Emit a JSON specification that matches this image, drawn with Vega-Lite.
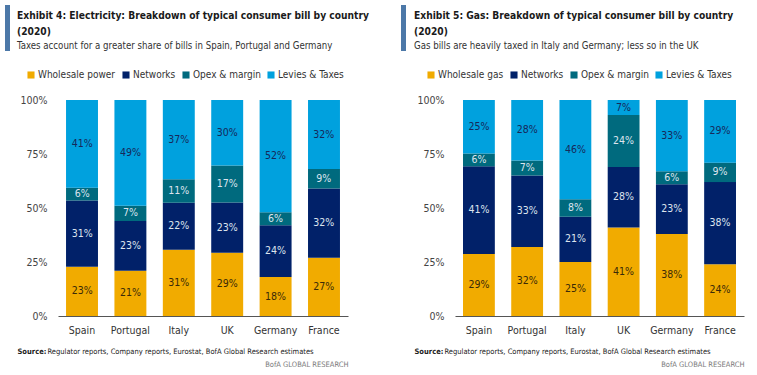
{
  "$schema": "https://vega.github.io/schema/vega-lite/v6.json",
  "padding": {"left": 5, "top": 5, "right": 5, "bottom": 3},
  "background": "white",
  "config": {
    "font": "Liberation Sans Narrow, DejaVu Sans Condensed, Roboto, sans-serif",
    "view": {"stroke": null},
    "legend": {"padding": 0}
  },
  "datasets": {
    "elec": [
      {"country": "Spain", "component": "Wholesale power", "value": 23, "order": 1},
      {"country": "Spain", "component": "Networks", "value": 31, "order": 2},
      {"country": "Spain", "component": "Opex & margin", "value": 6, "order": 3},
      {"country": "Spain", "component": "Levies & Taxes", "value": 41, "order": 4},
      {"country": "Portugal", "component": "Wholesale power", "value": 21, "order": 1},
      {"country": "Portugal", "component": "Networks", "value": 23, "order": 2},
      {"country": "Portugal", "component": "Opex & margin", "value": 7, "order": 3},
      {"country": "Portugal", "component": "Levies & Taxes", "value": 49, "order": 4},
      {"country": "Italy", "component": "Wholesale power", "value": 31, "order": 1},
      {"country": "Italy", "component": "Networks", "value": 22, "order": 2},
      {"country": "Italy", "component": "Opex & margin", "value": 11, "order": 3},
      {"country": "Italy", "component": "Levies & Taxes", "value": 37, "order": 4},
      {"country": "UK", "component": "Wholesale power", "value": 29, "order": 1},
      {"country": "UK", "component": "Networks", "value": 23, "order": 2},
      {"country": "UK", "component": "Opex & margin", "value": 17, "order": 3},
      {"country": "UK", "component": "Levies & Taxes", "value": 30, "order": 4},
      {"country": "Germany", "component": "Wholesale power", "value": 18, "order": 1},
      {"country": "Germany", "component": "Networks", "value": 24, "order": 2},
      {"country": "Germany", "component": "Opex & margin", "value": 6, "order": 3},
      {"country": "Germany", "component": "Levies & Taxes", "value": 52, "order": 4},
      {"country": "France", "component": "Wholesale power", "value": 27, "order": 1},
      {"country": "France", "component": "Networks", "value": 32, "order": 2},
      {"country": "France", "component": "Opex & margin", "value": 9, "order": 3},
      {"country": "France", "component": "Levies & Taxes", "value": 32, "order": 4}
    ],
    "gas": [
      {"country": "Spain", "component": "Wholesale gas", "value": 29, "order": 1},
      {"country": "Spain", "component": "Networks", "value": 41, "order": 2},
      {"country": "Spain", "component": "Opex & margin", "value": 6, "order": 3},
      {"country": "Spain", "component": "Levies & Taxes", "value": 25, "order": 4},
      {"country": "Portugal", "component": "Wholesale gas", "value": 32, "order": 1},
      {"country": "Portugal", "component": "Networks", "value": 33, "order": 2},
      {"country": "Portugal", "component": "Opex & margin", "value": 7, "order": 3},
      {"country": "Portugal", "component": "Levies & Taxes", "value": 28, "order": 4},
      {"country": "Italy", "component": "Wholesale gas", "value": 25, "order": 1},
      {"country": "Italy", "component": "Networks", "value": 21, "order": 2},
      {"country": "Italy", "component": "Opex & margin", "value": 8, "order": 3},
      {"country": "Italy", "component": "Levies & Taxes", "value": 46, "order": 4},
      {"country": "UK", "component": "Wholesale gas", "value": 41, "order": 1},
      {"country": "UK", "component": "Networks", "value": 28, "order": 2},
      {"country": "UK", "component": "Opex & margin", "value": 24, "order": 3},
      {"country": "UK", "component": "Levies & Taxes", "value": 7, "order": 4},
      {"country": "Germany", "component": "Wholesale gas", "value": 38, "order": 1},
      {"country": "Germany", "component": "Networks", "value": 23, "order": 2},
      {"country": "Germany", "component": "Opex & margin", "value": 6, "order": 3},
      {"country": "Germany", "component": "Levies & Taxes", "value": 33, "order": 4},
      {"country": "France", "component": "Wholesale gas", "value": 24, "order": 1},
      {"country": "France", "component": "Networks", "value": 38, "order": 2},
      {"country": "France", "component": "Opex & margin", "value": 9, "order": 3},
      {"country": "France", "component": "Levies & Taxes", "value": 29, "order": 4}
    ]
  },
  "resolve": {
    "scale": {"color": "independent", "shape": "independent", "y": "independent"},
    "legend": {"color": "independent", "shape": "independent"}
  },
  "spacing": 32,
  "hconcat": [
    {
      "width": 290, "height": 216,
      "data": {"name": "elec"},
      "title": {
        "text": ["Exhibit 4: Electricity: Breakdown of typical consumer bill by country", "(2020)"],
        "subtitle": "Taxes account for a greater share of bills in Spain, Portugal and Germany",
        "anchor": "start", "frame": "group", "dx": -41,
        "fontSize": 10.2, "fontWeight": "bold", "color": "#1a1a1a", "lineHeight": 16,
        "subtitleFontSize": 9.6, "subtitleColor": "#333333", "subtitlePadding": 4, "offset": -46
      },
      "transform": [
        {"stack": "value", "groupby": ["country"], "sort": [{"field": "order"}], "as": ["v0", "v1"], "offset": "normalize"},
        {"calculate": "(datum.v0 + datum.v1) / 2", "as": "mid"},
        {"calculate": "datum.value + '%'", "as": "label"}
      ],
      "resolve": {"scale": {"x": "independent"}, "axis": {"x": "independent"}},
      "layer": [
        {
          "mark": {"type": "bar"},
          "encoding": {
            "x": {
              "field": "country", "type": "nominal",
              "sort": ["Spain", "Portugal", "Italy", "UK", "Germany", "France"],
              "scale": {"paddingInner": 0.34, "paddingOuter": 0.166},
              "axis": {
                "orient": "bottom",
                "title": "Regulator reports, Company reports, Eurostat, BofA Global Research estimates",
                "titleFontSize": 7.5, "titleFontWeight": "normal", "titleColor": "#222222",
                "titleAnchor": "start", "titleAlign": "left", "titleBaseline": "top", "titleX": -11, "titleY": 31,
                "labelAngle": 0, "labelFontSize": 10.5, "labelColor": "#333333", "labelPadding": 9,
                "ticks": false, "domainColor": "#555555", "domainWidth": 1
              }
            },
            "y": {
              "field": "v0", "type": "quantitative",
              "scale": {"domain": [0, 1], "nice": false},
              "axis": {"title": null, "format": ".0%", "values": [0, 0.25, 0.5, 0.75, 1], "grid": false, "domain": false, "ticks": false, "labelPadding": 11, "labelFontSize": 10.5, "labelColor": "#444444"}
            },
            "y2": {"field": "v1"},
            "color": {
              "field": "component", "type": "nominal",
              "scale": {"domain": ["Wholesale power", "Networks", "Opex & margin", "Levies & Taxes"], "range": ["#F1AB00", "#012169", "#006A7E", "#00A1DE"]},
              "legend": {"title": null, "orient": "none", "legendX": -32, "legendY": -30, "direction": "horizontal", "symbolType": "square", "symbolSize": 50, "symbolStrokeWidth": 0, "labelFontSize": 10, "labelColor": "#333333", "columnPadding": 5, "labelOffset": 2}
            },
            "order": {"field": "order"}
          }
        },
        {
          "mark": {"type": "text", "fontSize": 10.5},
          "encoding": {
            "x": {
              "field": "country", "type": "nominal",
              "sort": ["Spain", "Portugal", "Italy", "UK", "Germany", "France"],
              "scale": {"paddingInner": 0.34, "paddingOuter": 0.166},
              "axis": null
            },
            "y": {"field": "mid", "type": "quantitative"},
            "text": {"field": "label"},
            "color": {
              "condition": [
                {"test": "datum.order == 1", "value": "#3a2a08"},
                {"test": "datum.order == 4", "value": "#16285a"}
              ],
              "value": "#dde4ee"
            }
          }
        },
        {
          "mark": {"type": "point", "opacity": 0, "filled": true},
          "encoding": {
            "x": {
              "field": "country", "type": "nominal",
              "sort": ["Spain", "Portugal", "Italy", "UK", "Germany", "France"],
              "axis": {
                "orient": "bottom", "labels": false, "ticks": false, "domain": false,
                "title": "Source:", "titleFontSize": 7.5, "titleFontWeight": "bold", "titleColor": "#222222",
                "titleAnchor": "start", "titleAlign": "left", "titleBaseline": "top", "titleX": -41, "titleY": 31
              }
            },
            "y": {"field": "mid", "type": "quantitative"},
            "shape": {
              "datum": "bar",
              "scale": {"range": ["M-1,-1H-0.783V1H-1Z"]},
              "legend": {"title": null, "orient": "none", "legendX": -53, "legendY": -95, "symbolSize": 2116, "symbolFillColor": "#0A50C8", "symbolStrokeColor": "#0A50C8", "symbolStrokeWidth": 0, "symbolOpacity": 1, "labelExpr": "''", "labelOffset": 0}
            }
          }
        },
        {
          "mark": {"type": "point", "opacity": 0},
          "encoding": {
            "x": {
              "field": "country", "type": "nominal",
              "sort": ["Spain", "Portugal", "Italy", "UK", "Germany", "France"],
              "axis": {
                "orient": "bottom", "labels": false, "ticks": false, "domain": false,
                "title": "BofA GLOBAL RESEARCH", "titleFontSize": 7.5, "titleFontWeight": "normal", "titleColor": "#7a7a7a",
                "titleAnchor": "end", "titleAlign": "right", "titleBaseline": "top", "titleX": 290, "titleY": 44
              }
            },
            "y": {"field": "mid", "type": "quantitative"}
          }
        }
      ]
    },
    {
      "width": 289, "height": 216,
      "data": {"name": "gas"},
      "title": {
        "text": ["Exhibit 5: Gas: Breakdown of typical consumer bill by country", "(2020)"],
        "subtitle": "Gas bills are heavily taxed in Italy and Germany; less so in the UK",
        "anchor": "start", "frame": "group", "dx": -41,
        "fontSize": 10.2, "fontWeight": "bold", "color": "#1a1a1a", "lineHeight": 16,
        "subtitleFontSize": 9.6, "subtitleColor": "#333333", "subtitlePadding": 4, "offset": -46
      },
      "transform": [
        {"stack": "value", "groupby": ["country"], "sort": [{"field": "order"}], "as": ["v0", "v1"], "offset": "normalize"},
        {"calculate": "(datum.v0 + datum.v1) / 2", "as": "mid"},
        {"calculate": "datum.value + '%'", "as": "label"}
      ],
      "resolve": {"scale": {"x": "independent"}, "axis": {"x": "independent"}},
      "layer": [
        {
          "mark": {"type": "bar"},
          "encoding": {
            "x": {
              "field": "country", "type": "nominal",
              "sort": ["Spain", "Portugal", "Italy", "UK", "Germany", "France"],
              "scale": {"paddingInner": 0.34, "paddingOuter": 0.166},
              "axis": {
                "orient": "bottom",
                "title": "Regulator reports, Company reports, Eurostat, BofA Global Research estimates",
                "titleFontSize": 7.5, "titleFontWeight": "normal", "titleColor": "#222222",
                "titleAnchor": "start", "titleAlign": "left", "titleBaseline": "top", "titleX": -11, "titleY": 31,
                "labelAngle": 0, "labelFontSize": 10.5, "labelColor": "#333333", "labelPadding": 9,
                "ticks": false, "domainColor": "#555555", "domainWidth": 1
              }
            },
            "y": {
              "field": "v0", "type": "quantitative",
              "scale": {"domain": [0, 1], "nice": false},
              "axis": {"title": null, "format": ".0%", "values": [0, 0.25, 0.5, 0.75, 1], "grid": false, "domain": false, "ticks": false, "labelPadding": 11, "labelFontSize": 10.5, "labelColor": "#444444"}
            },
            "y2": {"field": "v1"},
            "color": {
              "field": "component", "type": "nominal",
              "scale": {"domain": ["Wholesale gas", "Networks", "Opex & margin", "Levies & Taxes"], "range": ["#F1AB00", "#012169", "#006A7E", "#00A1DE"]},
              "legend": {"title": null, "orient": "none", "legendX": -29, "legendY": -30, "direction": "horizontal", "symbolType": "square", "symbolSize": 50, "symbolStrokeWidth": 0, "labelFontSize": 10, "labelColor": "#333333", "columnPadding": 5, "labelOffset": 2}
            },
            "order": {"field": "order"}
          }
        },
        {
          "mark": {"type": "text", "fontSize": 10.5},
          "encoding": {
            "x": {
              "field": "country", "type": "nominal",
              "sort": ["Spain", "Portugal", "Italy", "UK", "Germany", "France"],
              "scale": {"paddingInner": 0.34, "paddingOuter": 0.166},
              "axis": null
            },
            "y": {"field": "mid", "type": "quantitative"},
            "text": {"field": "label"},
            "color": {
              "condition": [
                {"test": "datum.order == 1", "value": "#3a2a08"},
                {"test": "datum.order == 4", "value": "#16285a"}
              ],
              "value": "#dde4ee"
            }
          }
        },
        {
          "mark": {"type": "point", "opacity": 0, "filled": true},
          "encoding": {
            "x": {
              "field": "country", "type": "nominal",
              "sort": ["Spain", "Portugal", "Italy", "UK", "Germany", "France"],
              "axis": {
                "orient": "bottom", "labels": false, "ticks": false, "domain": false,
                "title": "Source:", "titleFontSize": 7.5, "titleFontWeight": "bold", "titleColor": "#222222",
                "titleAnchor": "start", "titleAlign": "left", "titleBaseline": "top", "titleX": -41, "titleY": 31
              }
            },
            "y": {"field": "mid", "type": "quantitative"},
            "shape": {
              "datum": "bar",
              "scale": {"range": ["M-1,-1H-0.783V1H-1Z"]},
              "legend": {"title": null, "orient": "none", "legendX": -54, "legendY": -95, "symbolSize": 2116, "symbolFillColor": "#0A50C8", "symbolStrokeColor": "#0A50C8", "symbolStrokeWidth": 0, "symbolOpacity": 1, "labelExpr": "''", "labelOffset": 0}
            }
          }
        },
        {
          "mark": {"type": "point", "opacity": 0},
          "encoding": {
            "x": {
              "field": "country", "type": "nominal",
              "sort": ["Spain", "Portugal", "Italy", "UK", "Germany", "France"],
              "axis": {
                "orient": "bottom", "labels": false, "ticks": false, "domain": false,
                "title": "BofA GLOBAL RESEARCH", "titleFontSize": 7.5, "titleFontWeight": "normal", "titleColor": "#7a7a7a",
                "titleAnchor": "end", "titleAlign": "right", "titleBaseline": "top", "titleX": 289, "titleY": 44
              }
            },
            "y": {"field": "mid", "type": "quantitative"}
          }
        }
      ]
    }
  ]
}
